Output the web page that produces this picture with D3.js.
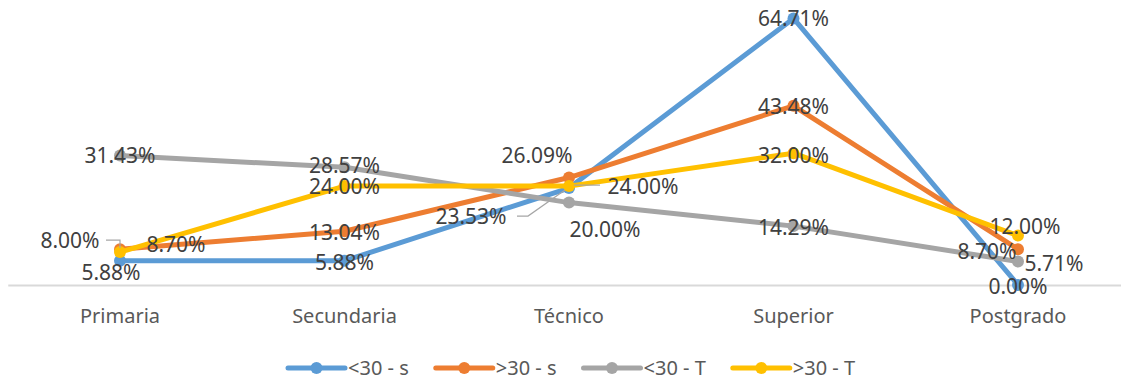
<!DOCTYPE html>
<html><head><meta charset="utf-8">
<script src="https://cdn.jsdelivr.net/npm/d3@7"></script>
<style>
html,body{margin:0;padding:0;background:#fff;}
svg{display:block;font-family:"Noto Sans",sans-serif;}
</style></head>
<body><svg id="c" width="1121" height="383"></svg>
<script>
const categories = ["Primaria","Secundaria","Técnico","Superior","Postgrado"];
const seriesNames = ["<30 - s",">30 - s","<30 - T",">30 - T"];
const under30S = [5.88, 5.88, 23.53, 64.71, 0.00];
const over30S  = [8.70, 13.04, 26.09, 43.48, 8.70];
const under30T = [31.43, 28.57, 20.00, 14.29, 5.71];
const over30T  = [8.00, 24.00, 24.00, 32.00, 12.00];

// label placement offsets (px, relative to point)
const labelOffsets = [
  [[-9,12],[0,2],[-98,29],[0,0],[0,2]],
  [[56,-5],[0,1],[-32,-22],[0,1],[-31,2]],
  [[0,0],[0,-2],[36,27],[0,2],[36,2]],
  [[-50,-11],[0,1],[74,1],[0,2],[7,-9]]
];
const colors = ["#5B9BD5","#ED7D31","#A5A5A5","#FFC000"];

const series = [under30S, over30S, under30T, over30T].map((v,i)=>({name:seriesNames[i], values:v, color:colors[i]}));

const svg = d3.select("#c");
const x = d3.scaleBand().domain(categories).range([7.75,1130.25]);
const y = d3.scaleLinear().domain([0,70]).range([285,-3.4]);
const cx = c => x(c) + x.bandwidth()/2;

// axis
const ax = svg.append("g").attr("transform","translate(0,285)")
  .call(d3.axisBottom(x).tickSize(0));
ax.select(".domain").attr("stroke","#D9D9D9").attr("stroke-width",2);
ax.selectAll("text").attr("y",31).attr("dy","0.35em")
  .attr("fill","#595959").style("font-size","20px").style("font-family","'Noto Sans',sans-serif");

// lines + markers
const line = d3.line().x((d,i)=>cx(categories[i])).y(d=>y(d));
series.forEach(s=>{
  const g = svg.append("g");
  g.append("path").attr("d",line(s.values)).attr("fill","none")
    .attr("stroke",s.color).attr("stroke-width",5).attr("stroke-linejoin","round").attr("stroke-linecap","round");
  g.selectAll("circle").data(s.values).join("circle")
    .attr("cx",(d,i)=>cx(categories[i])).attr("cy",d=>y(d)).attr("r",6).attr("fill",s.color);
});

// leader lines
const leaderG = svg.append("g").attr("fill","none").attr("stroke","#A6A6A6").attr("stroke-width",1.2);
const leaders = [
  {s:3, i:0, pts:[[-14,-12],[0,-12],[0,-4]]},
  {s:0, i:2, pts:[[-52,28],[-41,28],[-4,2]]},
  {s:3, i:2, pts:[[5,-1],[31,-1]]}
];
leaders.forEach(L=>{
  const px = cx(categories[L.i]), py = y(series[L.s].values[L.i]);
  leaderG.append("path").attr("d", d3.line()(L.pts.map(p=>[px+p[0],py+p[1]])));
});

// data labels
const lg = svg.append("g").attr("fill","#404040").style("font-size","21px").attr("text-anchor","middle");
series.forEach((s,si)=>{
  s.values.forEach((v,i)=>{
    const o = labelOffsets[si][i];
    lg.append("text").attr("x",cx(categories[i])+o[0]).attr("y",y(v)+o[1]).attr("dy","0.35em")
      .text(v.toFixed(2)+"%");
  });
});

// legend
const leg = svg.append("g").attr("transform","translate(0,368)");
let xpos = 288;
series.forEach(s=>{
  const g = leg.append("g").attr("transform",`translate(${xpos},0)`);
  g.append("line").attr("x1",0).attr("x2",57).attr("y1",0).attr("y2",0)
    .attr("stroke",s.color).attr("stroke-width",5).attr("stroke-linecap","round");
  g.append("circle").attr("cx",28.5).attr("cy",0).attr("r",6).attr("fill",s.color);
  const t = g.append("text").attr("x",60).attr("dy","0.35em").attr("fill","#595959")
    .style("font-size","20px").text(s.name);
  xpos += 60 + t.node().getComputedTextLength() + 27;
});
</script>
</body></html>
